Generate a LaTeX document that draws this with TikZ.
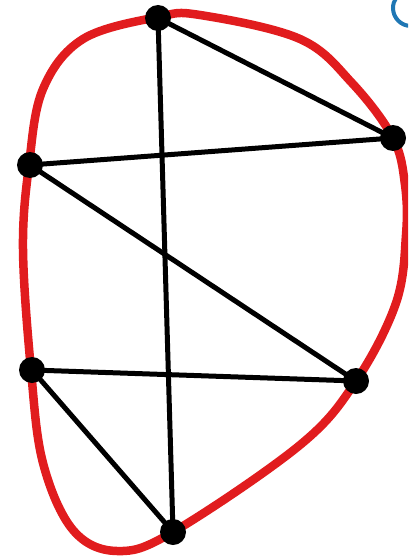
\documentclass[tikz,border=0pt]{standalone}
\definecolor{loopred}{RGB}{225,28,30}
\definecolor{arcblue}{RGB}{31,119,180}
\begin{document}
\begin{tikzpicture}[x=1pt,y=-1pt,
  vtx/.style={circle,fill=black,inner sep=0pt,minimum size=26pt},
  edge/.style={line width=5pt,black}]
\useasboundingbox (0,0) rectangle (408,559);
\begin{scope}
\clip (0,0) rectangle (408,559);
\draw[loopred,line width=8.5pt] plot[smooth cycle,tension=0.6] coordinates {
 (158,17) (200,15) (300,39) (352,83) (393,138) (405,185) (406,235) (396,303)
 (356,381) (300,445) (173,532) (117,551) (73,530) (43,463) (31,370) (23,249)
 (29,165) (43,89) (83,39)};
\draw[arcblue,line width=4pt] (411,26) arc[start angle=90,end angle=250,radius=18];
\end{scope}
\node[vtx] (a) at (158,18) {};
\node[vtx] (b) at (393,138) {};
\node[vtx] (c) at (30,165) {};
\node[vtx] (d) at (32,370) {};
\node[vtx] (e) at (356,381) {};
\node[vtx] (f) at (173,532) {};
\draw[edge] (a.center) -- (b.center);
\draw[edge] (a.center) -- (f.center);
\draw[edge] (c.center) -- (b.center);
\draw[edge] (c.center) -- (e.center);
\draw[edge] (d.center) -- (e.center);
\draw[edge] (d.center) -- (f.center);
\end{tikzpicture}
\end{document}
